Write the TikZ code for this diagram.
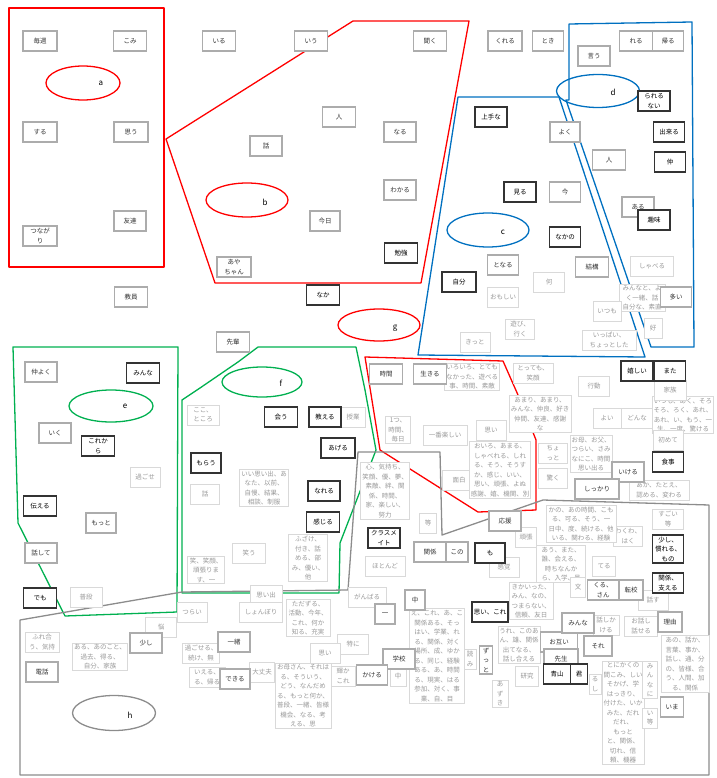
\documentclass[tikz,border=0pt]{standalone}
\usepackage{fontspec}
\newfontfamily\jp{Noto Sans CJK JP}
\usetikzlibrary{positioning,shapes.geometric}
\definecolor{grpred}{RGB}{255,0,0}
\definecolor{grpblue}{RGB}{0,112,192}
\definecolor{grpgreen}{RGB}{0,176,80}
\definecolor{grpgray}{RGB}{140,140,140}
\tikzset{
  word/.style={fill=white, inner sep=1.5pt, align=center, minimum height=20pt,
    font=\jp\fontsize{6.5}{9.5}\selectfont},
  wa/.style={word, draw=gray!30, line width=0.9pt, text=gray!80},
  wb/.style={word, draw=gray!65, line width=1.5pt, text=black!80},
  wc/.style={word, draw=black!80, line width=1.8pt, text=black},
  area/.style={line width=1.3pt, line join=round},
  clus/.style={ellipse, draw=#1, line width=1.3pt, inner sep=0pt},
  clabel/.style={font=\jp\fontsize{8}{8}\selectfont, inner sep=0pt},
}
\begin{document}
\begin{tikzpicture}[x=1pt,y=-1pt]
  \useasboundingbox (0,0) rectangle (716,778);
  % cluster outlines
  \draw[area,grpred] (9,8) rectangle (164,267);
  \draw[area,grpred] (166,139) -- (353,21) -- (469,21) -- (421,283) -- (215,283) -- cycle;
  \draw[area,grpred] (365,357) -- (503,361) -- (518,395) -- (536,440) -- (536,510) -- (478,512) -- (380,450) -- cycle;
  \draw[area,grpblue] (569,24) -- (692,22) -- (694,347) -- (651,347) -- (566,100) -- (569,100) -- cycle;
  \draw[area,grpblue] (458,97) -- (559,97) -- (645,357) -- (418,355) -- cycle;
  \draw[area,grpgreen] (13,347) -- (178,347) -- (177,612) -- (65,616) -- (18,523) -- cycle;
  \draw[area,grpgreen] (182,400) -- (200,388) -- (238,362) -- (258,347) -- (356,347) -- (365,390)
    -- (376,450) -- (340,543) -- (339,593) -- (182,593) -- cycle;
  \draw[area,grpgray] (20,620) -- (182,592) -- (348,590) -- (358,452) -- (440,452) -- (442,535)
    -- (543,500) -- (709,505) -- (709,775) -- (20,775) -- cycle;
  % cluster ellipses
  \node[clus=grpred, minimum width=74pt, minimum height=34pt] (ca) at (83,83) {};
  \node[clus=grpred, minimum width=82pt, minimum height=34pt] (cb) at (247,200) {};
  \node[clus=grpblue, minimum width=82pt, minimum height=34pt] (cc) at (488,230) {};
  \node[clus=grpblue, minimum width=83pt, minimum height=33pt] (cd) at (598,91) {};
  \node[clus=grpgreen, minimum width=84pt, minimum height=32pt] (ce) at (111,406) {};
  \node[clus=grpgreen, minimum width=80pt, minimum height=30pt] (cf) at (262,382) {};
  \node[clus=grpred, minimum width=82pt, minimum height=32pt] (cg) at (379,325) {};
  \node[clus=grpgray, minimum width=83pt, minimum height=35pt] (ch) at (114,713) {};
  \foreach \nm/\x/\y/\t in {la/101/83/a,lb/265/202/b,lc/503/232/c,ld/613/92/d,
      le/125/406/e,lf/281/383/f,lg/395/328/g,lh/130/715/h}
    \node[clabel] (\nm) at (\x,\y) {\t};
  % light words
  \foreach \nm/\x/\y/\w/\t in {
      l1/203/415/32/{ここ、\\ところ}, l2/205/494/29/話, l3/145/477/30/過ごせ,
      l4/206/570/37/{笑、笑顔、\\頑張りま\\す、一}, l5/249/553/33/笑う,
      l6/264/488/45/{いい思い出、あ\\なた、以前、\\自慢、結果、\\相談、制服},
      l7/308/558/39/{ふざけ、\\付き、話\\める、部\\み、優い、\\他},
      l8/353/417/24/授業, l9/398/430/25/{1つ、\\時間、\\毎日},
      l10/445/435/44/一番楽しい, l11/491/430/30/思い,
      l12/385/491/49/{心、気持ち、\\笑顔、優、夢、\\素敵、絆、関\\係、時間、\\家、楽しい、\\努力},
      l13/428/523/17/等, l14/385/566/40/ほとんど, l15/459/480/33/面白,
      l16/504/567/30/感覚, l17/526/537/21/頑張,
      l18/561/564/49/{あう、また、\\誰、会える、\\時ちなんか\\ら、入学、員},
      l19/604/566/23/てる, l20/578/587/15/文, l21/653/600/30/話す,
      l22/628/536/24/{わくわ、\\はく}, l23/668/519/31/{すごい\\等},
      l24/581/524/70/{かの、あの時間、こも\\る、可る、そう、一\\日中、度、続ける、他\\いる、関わる、経験},
      l25/659/490/60/{あか、たとえ、\\認める、変わる},
      l26/591/454/42/{お母、お父、\\つらい、さみ\\なにこ、時間\\思い出る},
      l27/553/453/29/{ちょ\\っと}, l28/553/478/29/驚く,
      l29/500/470/58/{おいろ、あまる、\\しゃべれる、しれ\\る、そう、そうす\\か、感じ、いい、\\思い、頑張、よぬ\\感謝、嬉、機関、別},
      l30/540/414/62/{あまり、あまり、\\みんな、仲良、好き\\仲間、友達、感謝\\な},
      l31/607/418/28/よい, l32/637/418/32/どんな,
      l33/683/415/59/{いつも、あく、そろ\\そろ、ろく、あれ、\\あれ、い、もう、一\\生、一度、驚ける},
      l34/668/440/30/初めて, l35/594/386/31/行動, l36/533/373/40/{とっても、\\笑顔},
      l37/472/377/47/{いろいろ、とても\\なかった、遊べる\\事、時間、素敵},
      l38/670/390/32/家族, l39/609/340/54/{いっぱい、\\ちょっとした}, l40/653/328/18/好,
      l41/642/298/46/{みんなと、よ\\く一緒、話\\自分な、素直},
      l42/607/311/28/いつも, l43/520/329/29/{遊び、\\行く}, l44/549/282/31/何,
      l45/503/297/31/おもしい, l46/475/342/30/きっと, l47/652/266/43/しゃべる,
      l48/86/597/32/普段, l49/192/612/30/つらい, l50/161/627/31/悩,
      l51/42/642/34/{ふれ合\\う、気持}, l52/100/657/45/{ある、あのこと、\\過去、得る、\\自分、家族},
      l53/201/653/37/{過ごせる、\\続け、無}, l54/207/677/36/{いえる、\\る、帰る},
      l55/266/595/32/思い出, l56/261/612/43/しょんぼり,
      l57/308/618/44/{ただずる、\\活動、今年、\\これ、何か\\知る、充実},
      l58/367/597/38/がんばる, l59/353/644/31/特に, l60/325/653/30/思い,
      l61/262/672/25/大丈夫,
      l62/303/696/56/{お母さん、それは\\る、そういう、\\どう、なんだめ\\る、もっと何か、\\普段、一緒、皆様\\機会、なる、考\\える、思},
      l63/343/676/24/{輝か\\これ}, l64/398/676/16/中,
      l65/437/656/52/{え、これ、あ、こ\\関係ある、そっ\\はい、学業、れ\\る、関係、対く\\場所、成、ゆか\\る、同じ、経験\\ある、あ、時間\\る、現実、はる\\参加、対く、事\\業、自、目},
      l66/470/659/12/{読\\み},
      l67/531/601/44/{きかいった、\\みん、なの、\\つまらない、\\信頼、友日},
      l68/519/645/40/{うれ、このあ\\ん、雄、関係\\出てなる、\\話し合える},
      l69/527/676/23/研究, l70/606/625/26/{話しか\\ける}, l71/641/626/33/{お話し\\話せる},
      l72/685/664/48/{あの、話か、\\言葉、事か、\\話し、通、分\\の、皆様、合\\う、人間、加\\る、関係},
      l73/595/684/12/{る\\し},
      l74/623/713/40/{とにかくの\\間こみ、しい\\そかげ、学\\はっきり、\\付けた、いか\\みた、だれ\\だれ、\\もっと\\と、関係、\\切れ、信\\頼、機器},
      l75/650/680/15/{み\\ん\\な\\に}, l76/650/718/15/{い\\等}, l77/500/694/16/{あ\\ず\\き}}
    \node[wa, minimum width=\w pt] (\nm) at (\x,\y) {\t};
  % medium words
  \foreach \nm/\x/\y/\w/\t in {
      m1/40/41/34/毎週, m2/130/41/33/こみ, m3/219/41/33/いる, m4/311/41/33/いう,
      m5/430/41/33/聞く, m6/505/41/34/くれる, m7/548/41/31/とき, m8/636/41/33/れる,
      m9/668/41/31/帰る, m10/594/56/32/言う, m11/40/132/34/する, m12/131/132/34/思う,
      m13/40/236/34/{つなが\\り}, m14/130/221/32/友達, m15/131/297/33/教員,
      m16/339/117/33/人, m17/400/132/32/なる, m18/266/146/32/話, m19/400/190/32/わかる,
      m20/325/221/30/今日, m21/234/267/34/{あや\\ちゃん}, m22/233/342/33/先輩,
      m23/565/132/30/よく, m24/609/160/33/人, m25/565/192/31/今, m26/638/207/32/ある,
      m27/503/265/31/となる, m28/592/267/33/結構, m29/676/297/31/多い,
      m30/41/372/32/仲よく, m31/55/433/32/いく, m32/101/523/30/もっと, m33/41/553/32/話して,
      m34/430/374/33/生きる, m35/386/374/33/時間, m36/146/643/32/少し, m37/42/672/32/電話,
      m38/234/642/32/一緒, m39/235/679/30/できる, m40/399/659/32/学校, m41/372/675/31/かける,
      m42/385/614/20/一, m43/415/600/20/中, m44/559/642/37/お互い, m45/561/659/34/先生,
      m46/578/623/32/みんな, m47/598/646/28/それ, m48/670/622/24/理由, m49/672/707/23/いま,
      m50/603/590/31/{くる、\\さん}, m51/631/590/24/転校, m52/628/472/32/いける,
      m53/597/489/44/しっかり, m54/505/521/32/応援, m55/430/552/32/関係, m56/457/552/22/この,
      m57/486/660/13/{ず\\っ\\と}}
    \node[wb, minimum width=\w pt] (\nm) at (\x,\y) {\t};
  % strong words
  \foreach \nm/\x/\y/\w/\t in {
      d1/491/117/32/上手な, d2/654/101/32/{られる\\ない}, d3/669/132/31/出来る,
      d4/670/162/31/仲, d5/520/192/32/見る, d6/654/220/32/趣味, d7/565/237/31/なかの,
      d8/459/282/34/自分, d9/401/253/33/勉強, d10/323/295/33/なか, d11/637/371/32/嬉しい,
      d12/670/371/31/また, d13/143/373/33/みんな, d14/98/446/33/{これか\\ら},
      d15/40/506/33/伝える, d16/40/598/33/でも, d17/206/463/30/もらう, d18/281/417/33/会う,
      d19/325/417/32/教える, d20/338/448/34/あげる, d21/324/491/32/なれる,
      d22/323/522/33/感じる, d23/384/538/32/{クラスメ\\イト}, d24/490/553/30/も,
      d25/668/462/31/食事, d26/668/549/31/{少し、\\慣れる、\\もの}, d27/668/583/31/{関係、\\支える},
      d28/490/612/32/{思い、これ}, d29/557/674/27/青山, d30/579/674/17/君}
    \node[wc, minimum width=\w pt] (\nm) at (\x,\y) {\t};
\end{tikzpicture}
\end{document}
